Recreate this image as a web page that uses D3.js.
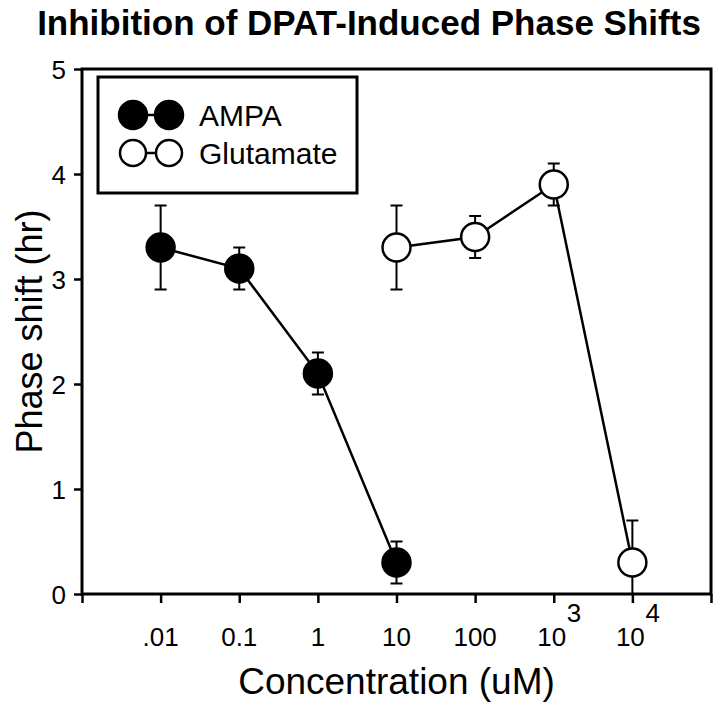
<!DOCTYPE html>
<html><head><meta charset="utf-8">
<script src="https://cdn.jsdelivr.net/npm/d3@7"></script>
<style>body{margin:0;background:#fff;} svg{display:block;} text{font-family:"Liberation Sans",Arial,sans-serif;fill:#000;}</style>
</head><body>
<svg id="chart" width="720" height="707"></svg>
<script>
const title = "Inhibition of DPAT-Induced Phase Shifts";
const xTitle = "Concentration (uM)";
const yTitle = "Phase shift (hr)";
const xTickValues = [0.001, 0.01, 0.1, 1, 10, 100, 1000, 10000, 100000];
const xTickLabels = ["", ".01", "0.1", "1", "10", "100", "10|3", "10|4", ""];
const yTickValues = [0, 1, 2, 3, 4, 5];
const ampaConc = [0.01, 0.1, 1, 10];
const ampaMean = [3.3, 3.1, 2.1, 0.3];
const ampaErr = [0.4, 0.2, 0.2, 0.2];
const gluConc = [10, 100, 1000, 10000];
const gluMean = [3.3, 3.4, 3.9, 0.3];
const gluErr = [0.4, 0.2, 0.2, 0.4];
const seriesNames = ["AMPA", "Glutamate"];

const svg = d3.select("#chart");
const L = 82, R = 711, T = 69, B = 594;
const x = d3.scaleLog().domain([0.001, 100000]).range([L, R]);
const y = d3.scaleLinear().domain([0, 5]).range([B, T]);

svg.append("text").attr("x", 369).attr("y", 35).attr("text-anchor", "middle")
  .style("font-weight", "bold").style("font-size", "35px").text(title);

// frame
svg.append("rect").attr("x", L).attr("y", T).attr("width", R - L).attr("height", B - T)
  .attr("fill", "none").attr("stroke", "#000").attr("stroke-width", 3);

// y axis
const yAxis = d3.axisLeft(y).tickValues(yTickValues).tickSize(8).tickPadding(8).tickFormat(d3.format("d"));
const gy = svg.append("g").attr("transform", `translate(${L},0)`).call(yAxis);
gy.select(".domain").remove();
gy.selectAll(".tick line").attr("stroke", "#000").attr("stroke-width", 2.5);
gy.selectAll(".tick text").style("font-size", "26px").attr("dy", "0.35em");

// x axis
const xAxis = d3.axisBottom(x).tickValues(xTickValues).tickSize(9).tickFormat(() => "");
const gx = svg.append("g").attr("transform", `translate(0,${B})`).call(xAxis);
gx.select(".domain").remove();
gx.selectAll(".tick line").attr("stroke", "#000").attr("stroke-width", 2.5);
xTickValues.forEach((v, i) => {
  const lab = xTickLabels[i];
  if (!lab) return;
  const parts = lab.split("|");
  const t = svg.append("text").attr("x", x(v)).attr("y", 646).attr("text-anchor", "middle")
    .style("font-size", "26px");
  if (parts.length === 1) { t.text(parts[0]); }
  else {
    t.attr("x", x(v) - 2).text(parts[0]);
    svg.append("text").attr("x", x(v) + 13).attr("y", 622).style("font-size", "26px").text(parts[1]);
  }
});

svg.append("text").attr("x", (L + R) / 2).attr("y", 694).attr("text-anchor", "middle")
  .style("font-size", "37px").text(xTitle);
svg.append("text").attr("transform", `translate(42,${(T + B) / 2}) rotate(-90)`)
  .attr("text-anchor", "middle").style("font-size", "36px").text(yTitle);

const line = d3.line().x(d => x(d.c)).y(d => y(d.m));
function drawSeries(conc, mean, err, filled) {
  const data = conc.map((c, i) => ({ c, m: mean[i], e: err[i] }));
  svg.append("path").datum(data).attr("d", line).attr("fill", "none")
    .attr("stroke", "#000").attr("stroke-width", 2.5);
  const g = svg.append("g");
  data.forEach(d => {
    const cx = x(d.c);
    const hi = Math.min(5, d.m + d.e), lo = Math.max(0, d.m - d.e);
    g.append("line").attr("x1", cx).attr("x2", cx).attr("y1", y(hi)).attr("y2", y(lo))
      .attr("stroke", "#000").attr("stroke-width", 2);
    g.append("line").attr("x1", cx - 6).attr("x2", cx + 6).attr("y1", y(hi)).attr("y2", y(hi))
      .attr("stroke", "#000").attr("stroke-width", 2);
    if (d.m - d.e > 0)
      g.append("line").attr("x1", cx - 6).attr("x2", cx + 6).attr("y1", y(lo)).attr("y2", y(lo))
        .attr("stroke", "#000").attr("stroke-width", 2);
  });
  svg.append("g").selectAll("circle").data(data).join("circle")
    .attr("cx", d => x(d.c)).attr("cy", d => y(d.m)).attr("r", 14)
    .attr("fill", filled ? "#000" : "#fff").attr("stroke", "#000").attr("stroke-width", 2.5);
}
drawSeries(ampaConc, ampaMean, ampaErr, true);
drawSeries(gluConc, gluMean, gluErr, false);

// legend
const lg = svg.append("g");
lg.append("rect").attr("x", 98).attr("y", 77).attr("width", 259).attr("height", 116)
  .attr("fill", "#fff").attr("stroke", "#000").attr("stroke-width", 3);
[[115, true], [153, false]].forEach(([ly, f], i) => {
  lg.append("line").attr("x1", 133).attr("x2", 169).attr("y1", ly).attr("y2", ly)
    .attr("stroke", "#000").attr("stroke-width", 2.5);
  [133, 169].forEach(cx => lg.append("circle").attr("cx", cx).attr("cy", ly).attr("r", f ? 14 : 13)
    .attr("fill", f ? "#000" : "#fff").attr("stroke", "#000").attr("stroke-width", 2.5));
  lg.append("text").attr("x", 199).attr("y", ly).attr("dy", "0.36em").style("font-size", "30px")
    .text(seriesNames[i]);
});
</script>
</body></html>
